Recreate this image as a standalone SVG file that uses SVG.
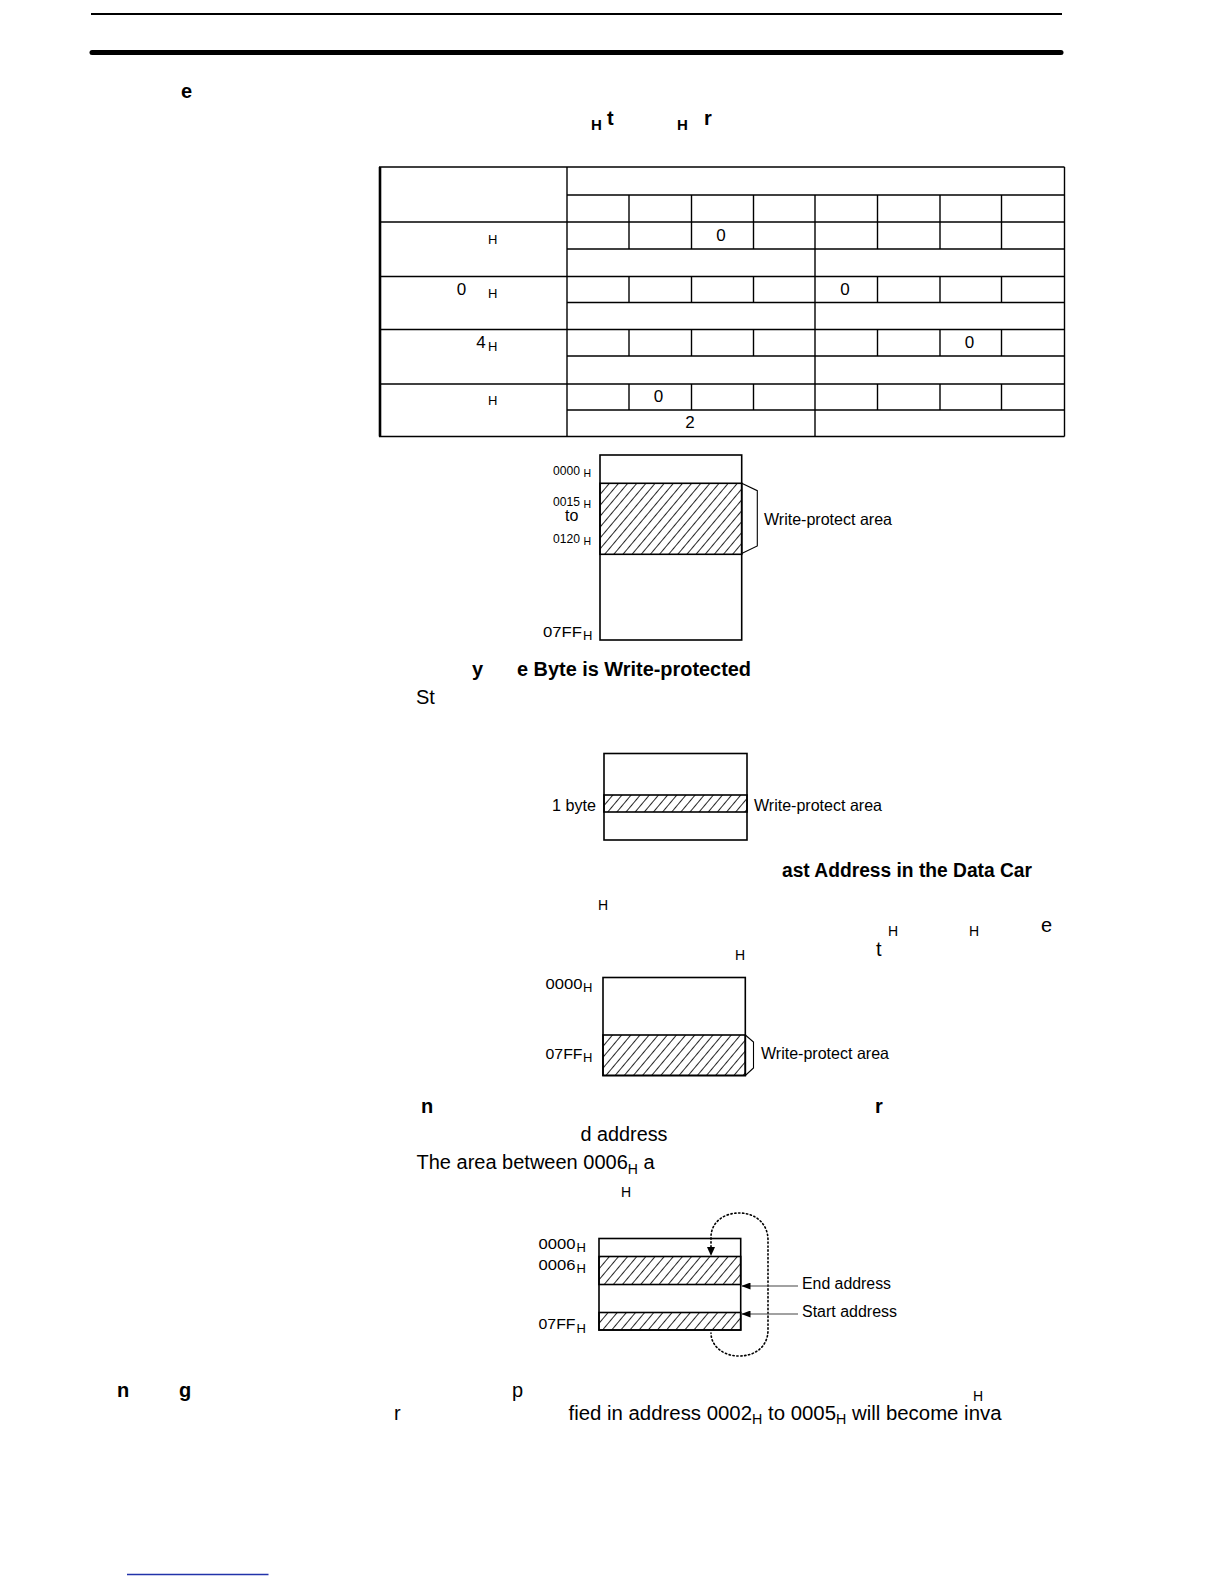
<svg xmlns="http://www.w3.org/2000/svg" width="1224" height="1584" viewBox="0 0 1224 1584">
<style>
text{font-family:"Liberation Sans",Arial,sans-serif;fill:#000}
.b{font-weight:bold}
.t20{font-size:20px}
.sub{font-size:13px}
.cell{font-size:17px}
.lab{font-size:16.5px}
.adr{font-size:13px}
.ln{stroke:#000;stroke-width:1.4;fill:none}
.box{stroke:#000;stroke-width:1.6;fill:#fff}
.hat{fill:url(#hatch);stroke:#000;stroke-width:1.6}
.brk{stroke:#000;stroke-width:1.1;fill:none}
.dot{stroke:#000;stroke-width:1.6;fill:none;stroke-dasharray:1.3 2.6;stroke-linecap:round}
.arr{stroke:#444;stroke-width:1.1;fill:none}
</style>
<defs>
<pattern id="hatch" width="7" height="7" patternUnits="userSpaceOnUse" patternTransform="rotate(40)">
<line x1="0" y1="0" x2="0" y2="7" stroke="#000" stroke-width="1.7"/>
</pattern>
<marker id="ah" markerWidth="9" markerHeight="7" refX="9" refY="3.5" orient="auto" markerUnits="userSpaceOnUse">
<path d="M0,0 L9,3.5 L0,7 z" fill="#000"/>
</marker>
</defs>

<g id="page-header">
<line x1="91" y1="14" x2="1062" y2="14" stroke="#000" stroke-width="2"/>
<line x1="92" y1="52.5" x2="1061" y2="52.5" stroke="#000" stroke-width="5" stroke-linecap="round"/>
<text x="181" y="98" class="b t20">e</text>
<text x="591" y="130" class="b" font-size="15">H</text>
<text x="607" y="125" class="b t20">t</text>
<text x="677" y="130" class="b" font-size="15">H</text>
<text x="704" y="125" class="b t20">r</text>
</g>

<g id="table">
<line x1="380" y1="167" x2="380" y2="436.5" stroke="#000" stroke-width="2.6"/>
<g class="ln">
<line x1="379" y1="167" x2="1064.5" y2="167"/>
<line x1="379" y1="222" x2="1064.5" y2="222"/>
<line x1="379" y1="276.5" x2="1064.5" y2="276.5"/>
<line x1="379" y1="329.5" x2="1064.5" y2="329.5"/>
<line x1="379" y1="384" x2="1064.5" y2="384"/>
<line x1="379" y1="436.5" x2="1064.5" y2="436.5"/>
<line x1="567" y1="195" x2="1064.5" y2="195"/>
<line x1="567" y1="249" x2="1064.5" y2="249"/>
<line x1="567" y1="302.5" x2="1064.5" y2="302.5"/>
<line x1="567" y1="356" x2="1064.5" y2="356"/>
<line x1="567" y1="410" x2="1064.5" y2="410"/>
<line x1="567" y1="167" x2="567" y2="436.5"/>
<line x1="1064.5" y1="167" x2="1064.5" y2="436.5"/>
<line x1="815" y1="195" x2="815" y2="436.5"/>
<line x1="629" y1="195" x2="629" y2="249"/>
<line x1="691.5" y1="195" x2="691.5" y2="249"/>
<line x1="753.5" y1="195" x2="753.5" y2="249"/>
<line x1="877.5" y1="195" x2="877.5" y2="249"/>
<line x1="940" y1="195" x2="940" y2="249"/>
<line x1="1001.5" y1="195" x2="1001.5" y2="249"/>
<line x1="629" y1="276.5" x2="629" y2="302.5"/>
<line x1="691.5" y1="276.5" x2="691.5" y2="302.5"/>
<line x1="753.5" y1="276.5" x2="753.5" y2="302.5"/>
<line x1="877.5" y1="276.5" x2="877.5" y2="302.5"/>
<line x1="940" y1="276.5" x2="940" y2="302.5"/>
<line x1="1001.5" y1="276.5" x2="1001.5" y2="302.5"/>
<line x1="629" y1="329.5" x2="629" y2="356"/>
<line x1="691.5" y1="329.5" x2="691.5" y2="356"/>
<line x1="753.5" y1="329.5" x2="753.5" y2="356"/>
<line x1="877.5" y1="329.5" x2="877.5" y2="356"/>
<line x1="940" y1="329.5" x2="940" y2="356"/>
<line x1="1001.5" y1="329.5" x2="1001.5" y2="356"/>
<line x1="629" y1="384" x2="629" y2="410"/>
<line x1="691.5" y1="384" x2="691.5" y2="410"/>
<line x1="753.5" y1="384" x2="753.5" y2="410"/>
<line x1="877.5" y1="384" x2="877.5" y2="410"/>
<line x1="940" y1="384" x2="940" y2="410"/>
<line x1="1001.5" y1="384" x2="1001.5" y2="410"/>
</g>
<text x="488" y="244" class="sub">H</text>
<text x="721" y="241" class="cell" text-anchor="middle">0</text>
<text x="461.5" y="295" class="cell" text-anchor="middle">0</text>
<text x="488" y="297.5" class="sub">H</text>
<text x="845" y="295" class="cell" text-anchor="middle">0</text>
<text x="481" y="348" class="cell" text-anchor="middle">4</text>
<text x="488" y="351" class="sub">H</text>
<text x="969.5" y="348" class="cell" text-anchor="middle">0</text>
<text x="488" y="405" class="sub">H</text>
<text x="658.5" y="402" class="cell" text-anchor="middle">0</text>
<text x="690" y="428" class="cell" text-anchor="middle">2</text>
</g>

<g id="memory-map-1">
<rect x="600" y="455" width="141.7" height="185" class="box"/>
<rect x="600" y="483.3" width="141.7" height="71" class="hat"/>
<text x="553" y="474.5" class="adr" textLength="27" lengthAdjust="spacingAndGlyphs">0000</text>
<text x="583.5" y="476.5" font-size="10.5">H</text>
<text x="553" y="506" class="adr" textLength="27" lengthAdjust="spacingAndGlyphs">0015</text>
<text x="583.5" y="508" font-size="10.5">H</text>
<text x="565" y="521" font-size="16">to</text>
<text x="553" y="543" class="adr" textLength="27" lengthAdjust="spacingAndGlyphs">0120</text>
<text x="583.5" y="545" font-size="10.5">H</text>
<text x="543" y="636.5" font-size="15" textLength="39" lengthAdjust="spacingAndGlyphs">07FF</text>
<text x="583" y="640" class="sub">H</text>
<text x="764" y="524.5" class="lab" textLength="128" lengthAdjust="spacingAndGlyphs">Write-protect area</text>
</g>

<g id="section-one-byte">
<text x="472" y="676" class="b t20">y</text>
<text x="517" y="676" class="b t20" textLength="234" lengthAdjust="spacingAndGlyphs">e Byte is Write-protected</text>
<text x="416" y="704" class="t20">St</text>
</g>

<g id="memory-map-2">
<rect x="604" y="753.5" width="143" height="86.5" class="box"/>
<rect x="604" y="795" width="143" height="17" class="hat"/>
<text x="596" y="810.5" class="lab" text-anchor="end" textLength="44" lengthAdjust="spacingAndGlyphs">1 byte</text>
<text x="754" y="810.5" class="lab" textLength="128" lengthAdjust="spacingAndGlyphs">Write-protect area</text>
</g>

<g id="section-last-address">
<text x="782" y="877" class="b t20" textLength="250" lengthAdjust="spacingAndGlyphs">ast Address in the Data Car</text>
<text x="598" y="910" font-size="14">H</text>
<text x="888" y="936" font-size="14">H</text>
<text x="969" y="936" font-size="14">H</text>
<text x="1041" y="932" class="t20">e</text>
<text x="735" y="960" font-size="14">H</text>
<text x="876" y="956" class="t20">t</text>
</g>

<g id="memory-map-3">
<rect x="603" y="977.5" width="142.3" height="98" class="box"/>
<rect x="603" y="1035" width="142.3" height="40.5" class="hat"/>
<text x="545.5" y="989" font-size="15" textLength="37" lengthAdjust="spacingAndGlyphs">0000</text>
<text x="583" y="992" class="sub">H</text>
<text x="545.5" y="1059" font-size="15" textLength="37" lengthAdjust="spacingAndGlyphs">07FF</text>
<text x="583" y="1062" class="sub">H</text>
<text x="761" y="1059" class="lab" textLength="128" lengthAdjust="spacingAndGlyphs">Write-protect area</text>
</g>

<g id="section-wrap">
<text x="421" y="1113" class="b t20">n</text>
<text x="875" y="1113" class="b t20">r</text>
<text x="580.5" y="1141" class="t20" textLength="87" lengthAdjust="spacingAndGlyphs">d address</text>
<text x="416.5" y="1168.5" class="t20">The area between 0006<tspan font-size="14" dy="5">H</tspan><tspan dy="-5"> a</tspan></text>
<text x="621" y="1196.5" font-size="14">H</text>
</g>

<g id="memory-map-4">
<rect x="599" y="1238.5" width="141.7" height="91.5" class="box"/>
<rect x="599" y="1256.5" width="141.7" height="28" class="hat"/>
<rect x="599" y="1312.5" width="141.7" height="17.5" class="hat"/>
<text x="538.5" y="1248.5" font-size="15" textLength="37" lengthAdjust="spacingAndGlyphs">0000</text>
<text x="576.5" y="1251.5" class="sub">H</text>
<text x="538.5" y="1270" font-size="15" textLength="37" lengthAdjust="spacingAndGlyphs">0006</text>
<text x="576.5" y="1273" class="sub">H</text>
<text x="538.5" y="1328.5" font-size="15" textLength="37" lengthAdjust="spacingAndGlyphs">07FF</text>
<text x="576.5" y="1332.5" class="sub">H</text>
<text x="802" y="1288.5" font-size="16" textLength="89" lengthAdjust="spacingAndGlyphs">End address</text>
<text x="802" y="1316.5" font-size="16" textLength="95" lengthAdjust="spacingAndGlyphs">Start address</text>
</g>

<g id="connectors">
<path class="brk" d="M741.7,483.3 L757.3,490.7 L757.3,546 L741.7,553.5"/>
<path class="brk" d="M745.3,1035 L753.5,1042 L753.5,1068 L745.3,1075.5"/>
<path class="dot" d="M711,1247 L711,1237 C711,1223 723,1213 739,1213 C756,1213 768,1224 768,1240 L768,1330 C768,1346 756,1356 739,1356 C723,1356 711,1346 711,1333"/>
<path d="M707,1247 L715,1247 L711,1256 z" fill="#000"/>
<line x1="798" y1="1286" x2="741.5" y2="1286" class="arr" marker-end="url(#ah)"/>
<line x1="798" y1="1314" x2="741.5" y2="1314" class="arr" marker-end="url(#ah)"/>
</g>

<g id="footer-text">
<text x="117" y="1397" class="b t20">n</text>
<text x="179" y="1397" class="b t20">g</text>
<text x="512" y="1397" class="t20">p</text>
<text x="973" y="1401" font-size="14">H</text>
<text x="394" y="1420" class="t20">r</text>
<text x="568.5" y="1420" class="t20" textLength="433" lengthAdjust="spacingAndGlyphs">fied in address 0002<tspan font-size="14" dy="4">H</tspan><tspan dy="-4"> to 0005</tspan><tspan font-size="14" dy="4">H</tspan><tspan dy="-4"> will become inva</tspan></text>
<line x1="127" y1="1574.5" x2="268.5" y2="1574.5" stroke="#2233aa" stroke-width="1.5"/>
</g>
</svg>
